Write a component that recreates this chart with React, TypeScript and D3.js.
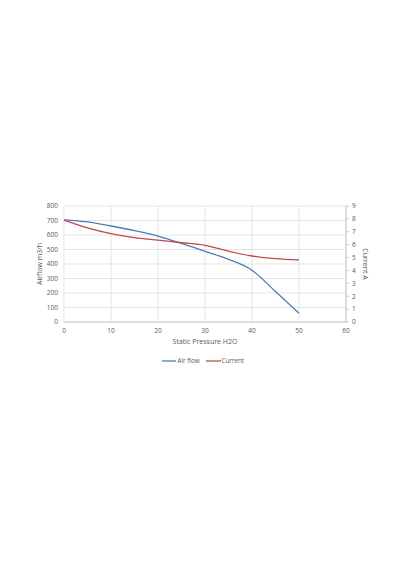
import React from "react";
import * as d3 from "d3";

const pressure = [0, 5, 10, 15, 20, 25, 30, 35, 40, 45, 50];
const airflow = [705, 690, 662, 630, 592, 542, 487, 432, 357, 210, 60];
const current = [7.9, 7.3, 6.85, 6.55, 6.35, 6.15, 5.95, 5.5, 5.12, 4.92, 4.82];
const xTicks = [0, 10, 20, 30, 40, 50, 60];
const yLeftTicks = [0, 100, 200, 300, 400, 500, 600, 700, 800];
const yRightTicks = [0, 1, 2, 3, 4, 5, 6, 7, 8, 9];

const W = 400, H = 570;
const L = 64, R = 346, T = 206, B = 322;
const FONT = "'Open Sans', 'DejaVu Sans', sans-serif";
const TXT = "#595959";
const BLUE = "#4A7EBB";
const RED = "#BE4B48";

export default function App() {
  const x = d3.scaleLinear().domain([0, 60]).range([L, R]);
  const yl = d3.scaleLinear().domain([0, 800]).range([B, T]);
  const yr = d3.scaleLinear().domain([0, 9]).range([B, T]);
  const lineA = d3.line<number>().x((_, i) => x(pressure[i])).y((d) => yl(d)).curve(d3.curveMonotoneX);
  const lineC = d3.line<number>().x((_, i) => x(pressure[i])).y((d) => yr(d)).curve(d3.curveMonotoneX);
  return (
    <svg width={W} height={H} style={{ position: "absolute", left: 0, top: 0, background: "#fff" }}>
      <rect width={W} height={H} fill="#fff" />
      {yLeftTicks.map((t) => (
        <line key={"h" + t} x1={L} x2={R} y1={yl(t)} y2={yl(t)} stroke="#d9d9d9" strokeWidth={0.7} />
      ))}
      {xTicks.map((t) => (
        <line key={"v" + t} x1={x(t)} x2={x(t)} y1={T} y2={B} stroke="#d9d9d9" strokeWidth={0.7} />
      ))}
      <line x1={L} x2={R} y1={B} y2={B} stroke="#bfbfbf" strokeWidth={0.8} />
      <line x1={R} x2={R} y1={T} y2={B} stroke="#bfbfbf" strokeWidth={0.8} />
      {yRightTicks.map((t) => (
        <line key={"rt" + t} x1={R} x2={R + 3} y1={yr(t)} y2={yr(t)} stroke="#bfbfbf" strokeWidth={0.8} />
      ))}
      {yLeftTicks.map((t) => (
        <text key={"yl" + t} x={L - 6} y={yl(t) + 2.3} textAnchor="end" fontSize={6.5} fill={TXT} fontFamily={FONT}>{t}</text>
      ))}
      {yRightTicks.map((t) => (
        <text key={"yr" + t} x={R + 6} y={yr(t) + 2.3} textAnchor="start" fontSize={6.5} fill={TXT} fontFamily={FONT}>{t}</text>
      ))}
      {xTicks.map((t) => (
        <text key={"xt" + t} x={x(t)} y={B + 10.5} textAnchor="middle" fontSize={6.5} fill={TXT} fontFamily={FONT}>{t}</text>
      ))}
      <path d={lineA(airflow) || ""} fill="none" stroke={BLUE} strokeWidth={1.3} />
      <path d={lineC(current) || ""} fill="none" stroke={RED} strokeWidth={1.3} />
      <text x={205} y={343.5} textAnchor="middle" fontSize={7} fill={TXT} fontFamily={FONT}>Static Pressure H2O</text>
      <text transform={`translate(42,${(T + B) / 2}) rotate(-90)`} textAnchor="middle" fontSize={7} fill={TXT} fontFamily={FONT}>Airflow m3/h</text>
      <text transform={`translate(363,${(T + B) / 2}) rotate(90)`} textAnchor="middle" fontSize={7} fill={TXT} fontFamily={FONT}>Current A</text>
      <line x1={162} x2={176} y1={361} y2={361} stroke={BLUE} strokeWidth={1.3} />
      <text x={177.5} y={363.2} fontSize={6.3} fill={TXT} fontFamily={FONT}>Air flow</text>
      <line x1={206} x2={221} y1={361} y2={361} stroke={RED} strokeWidth={1.3} />
      <text x={221.5} y={363.2} fontSize={6.3} fill={TXT} fontFamily={FONT}>Current</text>
    </svg>
  );
}
